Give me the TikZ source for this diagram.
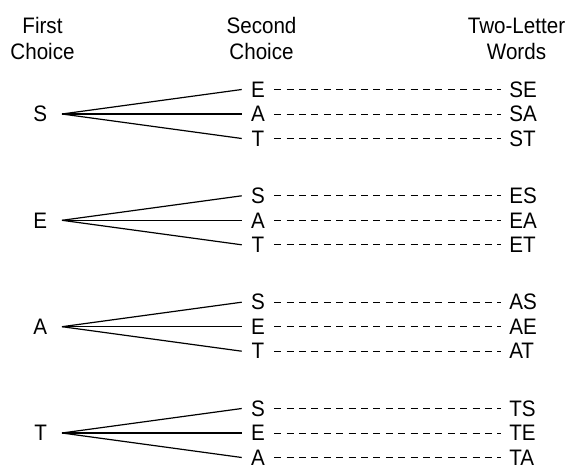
\documentclass[tikz,border=0pt]{standalone}
\usepackage{fontspec}
\setmainfont{Liberation Sans}[FakeStretch=0.92]
\usepackage{tikz}
\usetikzlibrary{positioning}

\begin{document}
\begin{tikzpicture}[x=0.75pt, y=-0.75pt,
  head/.style={align=center, font=\fontsize{16.8}{19.5}\selectfont},
  first/.style={anchor=east, inner xsep=11pt, inner ysep=0pt, font=\fontsize{16.8}{19.5}\selectfont},
  second/.style={minimum width=24pt, inner sep=0pt, font=\fontsize{16.8}{19.5}\selectfont},
  word/.style={anchor=west, inner xsep=6pt, inner ysep=0pt, font=\fontsize{16.8}{19.5}\selectfont},
  branch/.style={line width=0.9pt},
  link/.style={line width=0.7pt, dash pattern=on 5.2pt off 4.1pt}
]
\useasboundingbox (0,0) rectangle (571,470);

\node[head] (h1) at (42.5,38.5) {First\\Choice};
\node[head] (h2) at (261.5,38.5) {Second\\Choice};
\node[head] (h3) at (516.5,38.5) {Two-Letter\\Words};

% S
\node[first] (s) at (62,114) {S};
\node[second] (s-e) at (258,89.5) {E};
\node[second] (s-a) at (258,114) {A};
\node[second] (s-t) at (258,138.5) {T};
\node[word] (se) at (501,89.5) {SE};
\node[word] (sa) at (501,114) {SA};
\node[word] (st) at (501,138.5) {ST};
\draw[branch] (s.east) -- (s-e.west);
\draw[branch] (s.east) -- (s-a.west);
\draw[branch] (s.east) -- (s-t.west);
\draw[link] (s-e) -- (se);
\draw[link] (s-a) -- (sa);
\draw[link] (s-t) -- (st);

% E
\node[first] (e) at (62,220.3) {E};
\node[second] (e-s) at (258,195.8) {S};
\node[second] (e-a) at (258,220.3) {A};
\node[second] (e-t) at (258,244.8) {T};
\node[word] (es) at (501,195.8) {ES};
\node[word] (ea) at (501,220.3) {EA};
\node[word] (et) at (501,244.8) {ET};
\draw[branch] (e.east) -- (e-s.west);
\draw[branch] (e.east) -- (e-a.west);
\draw[branch] (e.east) -- (e-t.west);
\draw[link] (e-s) -- (es);
\draw[link] (e-a) -- (ea);
\draw[link] (e-t) -- (et);

% A
\node[first] (a) at (62,326.7) {A};
\node[second] (a-s) at (258,302.2) {S};
\node[second] (a-e) at (258,326.7) {E};
\node[second] (a-t) at (258,351.2) {T};
\node[word] (as) at (501,302.2) {AS};
\node[word] (ae) at (501,326.7) {AE};
\node[word] (at) at (501,351.2) {AT};
\draw[branch] (a.east) -- (a-s.west);
\draw[branch] (a.east) -- (a-e.west);
\draw[branch] (a.east) -- (a-t.west);
\draw[link] (a-s) -- (as);
\draw[link] (a-e) -- (ae);
\draw[link] (a-t) -- (at);

% T
\node[first] (t) at (62,433) {T};
\node[second] (t-s) at (258,408.5) {S};
\node[second] (t-e) at (258,433) {E};
\node[second] (t-a) at (258,457.5) {A};
\node[word] (ts) at (501,408.5) {TS};
\node[word] (te) at (501,433) {TE};
\node[word] (ta) at (501,457.5) {TA};
\draw[branch] (t.east) -- (t-s.west);
\draw[branch] (t.east) -- (t-e.west);
\draw[branch] (t.east) -- (t-a.west);
\draw[link] (t-s) -- (ts);
\draw[link] (t-e) -- (te);
\draw[link] (t-a) -- (ta);
\end{tikzpicture}
\end{document}
